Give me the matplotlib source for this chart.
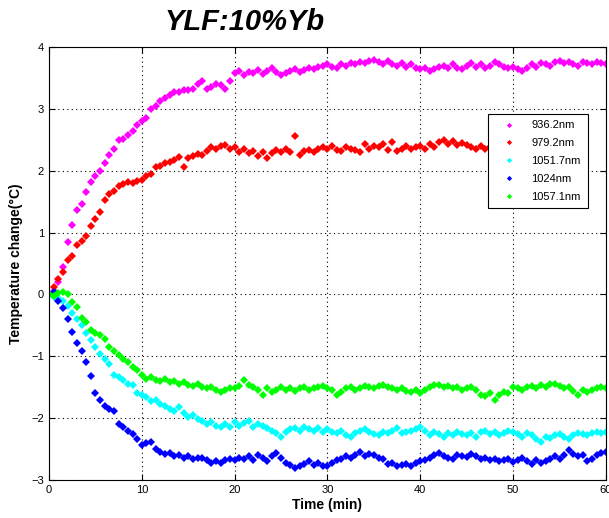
import numpy as np
import matplotlib
matplotlib.use("Agg")
import matplotlib.pyplot as plt

# time axis, one sample every 0.5 min
time = np.arange(0, 60.01, 0.5)

labels = ["936.2nm", "979.2nm", "1051.7nm", "1024nm", "1057.1nm"]
colors = ["#ff00ff", "#ff0000", "#00ffff", "#0000ff", "#00ff00"]

# 936.2nm
magenta = [
    0.00, 0.06, 0.20, 0.45, 0.85, 1.12, 1.36, 1.47, 1.66, 1.82,
    1.92, 2.00, 2.12, 2.26, 2.35, 2.50, 2.52, 2.58, 2.64, 2.74,
    2.80, 2.85, 3.00, 3.05, 3.13, 3.18, 3.22, 3.27, 3.28, 3.30,
    3.30, 3.33, 3.40, 3.46, 3.32, 3.36, 3.40, 3.38, 3.32, 3.45,
    3.58, 3.62, 3.55, 3.60, 3.58, 3.63, 3.57, 3.62, 3.66, 3.60,
    3.55, 3.58, 3.62, 3.65, 3.60, 3.63, 3.66, 3.64, 3.68, 3.70,
    3.72, 3.68, 3.66, 3.72, 3.70, 3.74, 3.72, 3.76, 3.75, 3.78,
    3.80, 3.76, 3.73, 3.78, 3.72, 3.70, 3.75, 3.68, 3.72, 3.66,
    3.65, 3.67, 3.62, 3.64, 3.68, 3.70, 3.66, 3.72, 3.67, 3.64,
    3.70, 3.74, 3.68, 3.72, 3.66, 3.70, 3.76, 3.72, 3.68, 3.66,
    3.68, 3.64, 3.62, 3.66, 3.72, 3.68, 3.75, 3.72, 3.70, 3.76,
    3.78, 3.74, 3.76, 3.72, 3.70, 3.76, 3.74, 3.72, 3.76, 3.74,
    3.72,
]

# 979.2nm (stops under the legend)
red = [
    0.00, 0.12, 0.25, 0.36, 0.55, 0.62, 0.80, 0.86, 0.95, 1.10,
    1.22, 1.33, 1.52, 1.62, 1.68, 1.75, 1.79, 1.82, 1.80, 1.84,
    1.85, 1.92, 1.95, 2.06, 2.08, 2.12, 2.15, 2.18, 2.22, 2.06,
    2.20, 2.24, 2.27, 2.25, 2.32, 2.38, 2.35, 2.40, 2.41, 2.36,
    2.38, 2.30, 2.35, 2.28, 2.32, 2.24, 2.30, 2.20, 2.28, 2.34,
    2.30, 2.36, 2.30, 2.57, 2.25, 2.32, 2.34, 2.30, 2.36, 2.38,
    2.35, 2.40, 2.34, 2.32, 2.38, 2.36, 2.34, 2.30, 2.44, 2.36,
    2.40, 2.38, 2.44, 2.34, 2.46, 2.32, 2.36, 2.40, 2.35, 2.38,
    2.40, 2.35, 2.44, 2.38, 2.46, 2.50, 2.44, 2.48, 2.42, 2.45,
    2.42, 2.38, 2.36, 2.40, 2.35, 2.38,
]

# 1051.7nm
cyan = [
    0.00, -0.04, -0.06, -0.10, -0.18, -0.30, -0.40, -0.50, -0.62, -0.74,
    -0.85, -0.96, -1.05, -1.12, -1.30, -1.33, -1.38, -1.44, -1.47, -1.60,
    -1.63, -1.66, -1.72, -1.70, -1.77, -1.80, -1.85, -1.88, -1.82, -1.92,
    -1.98, -1.95, -2.02, -2.05, -2.09, -2.06, -2.12, -2.15, -2.10, -2.14,
    -2.06, -2.12, -2.08, -2.05, -2.14, -2.10, -2.12, -2.16, -2.20, -2.24,
    -2.30, -2.22, -2.18, -2.16, -2.20, -2.14, -2.18, -2.20, -2.16, -2.22,
    -2.18, -2.22, -2.24, -2.20, -2.27, -2.30, -2.24, -2.20, -2.18, -2.22,
    -2.26, -2.28, -2.22, -2.24, -2.20, -2.16, -2.24, -2.22, -2.20, -2.18,
    -2.14, -2.20, -2.28, -2.22, -2.26, -2.30, -2.24, -2.28, -2.22, -2.26,
    -2.28, -2.24, -2.30, -2.22, -2.20, -2.26, -2.22, -2.28, -2.24, -2.20,
    -2.23, -2.26, -2.30, -2.24, -2.28, -2.34, -2.38, -2.30, -2.32, -2.28,
    -2.26, -2.30, -2.34, -2.28, -2.24, -2.26, -2.28, -2.24, -2.22, -2.24,
    -2.23,
]

# 1024nm
blue = [
    0.00, 0.04, -0.10, -0.22, -0.40, -0.60, -0.78, -0.92, -1.10, -1.32,
    -1.60, -1.70, -1.80, -1.86, -1.88, -2.10, -2.14, -2.20, -2.26, -2.34,
    -2.44, -2.40, -2.38, -2.50, -2.55, -2.58, -2.56, -2.62, -2.60, -2.64,
    -2.62, -2.66, -2.64, -2.65, -2.68, -2.72, -2.70, -2.73, -2.68, -2.66,
    -2.68, -2.64, -2.66, -2.62, -2.67, -2.60, -2.65, -2.70, -2.62, -2.57,
    -2.64, -2.72, -2.76, -2.80, -2.78, -2.74, -2.70, -2.76, -2.72, -2.78,
    -2.77, -2.72, -2.68, -2.66, -2.62, -2.64, -2.60, -2.55, -2.62, -2.58,
    -2.60, -2.64, -2.66, -2.74, -2.72, -2.78, -2.76, -2.74, -2.78, -2.72,
    -2.70, -2.68, -2.64, -2.60, -2.57, -2.62, -2.64, -2.66, -2.60, -2.62,
    -2.63, -2.58, -2.62, -2.66, -2.64, -2.68, -2.66, -2.70, -2.68, -2.66,
    -2.71, -2.68, -2.64, -2.70, -2.74, -2.68, -2.72, -2.70, -2.66, -2.62,
    -2.66, -2.60, -2.52, -2.58, -2.62, -2.60, -2.70, -2.66, -2.60, -2.56,
    -2.55,
]

# 1057.1nm
green = [
    0.00, -0.02, 0.02, 0.04, 0.00, -0.12, -0.20, -0.38, -0.45, -0.58,
    -0.62, -0.66, -0.72, -0.85, -0.92, -0.98, -1.05, -1.10, -1.18, -1.22,
    -1.30, -1.36, -1.33, -1.38, -1.40, -1.36, -1.42, -1.40, -1.45, -1.42,
    -1.46, -1.48, -1.45, -1.50, -1.52, -1.50, -1.54, -1.58, -1.55, -1.52,
    -1.52, -1.48, -1.39, -1.46, -1.50, -1.55, -1.62, -1.52, -1.58, -1.54,
    -1.50, -1.54, -1.52, -1.56, -1.52, -1.50, -1.54, -1.52, -1.50, -1.48,
    -1.52, -1.55, -1.62, -1.58, -1.52, -1.50, -1.54, -1.52, -1.48, -1.50,
    -1.52, -1.48, -1.46, -1.50, -1.52, -1.54, -1.52, -1.56, -1.58, -1.54,
    -1.60, -1.54, -1.50, -1.46, -1.47, -1.50, -1.48, -1.52, -1.50, -1.54,
    -1.52, -1.50, -1.54, -1.62, -1.64, -1.60, -1.71, -1.62, -1.58, -1.60,
    -1.50, -1.52, -1.54, -1.50, -1.48, -1.52, -1.46, -1.50, -1.44, -1.45,
    -1.48, -1.52, -1.50, -1.56, -1.62, -1.55, -1.58, -1.54, -1.52, -1.50,
    -1.52,
]

series = [magenta, red, cyan, blue, green]

plt.rcParams['font.family'] = ['Liberation Sans', 'DejaVu Sans']

fig = plt.figure(figsize=(6.09, 5.18), dpi=100)
ax = fig.add_axes([0.0805, 0.0734, 0.9145, 0.8356])

for vals, col, lab in zip(series, colors, labels):
    ax.plot(time[:len(vals)], vals, linestyle='none', marker='D',
            markersize=3.8, markeredgewidth=0, color=col, label=lab)

ax.set_xlim(0, 60)
ax.set_ylim(-3, 4)
ax.set_xticks(np.arange(0, 61, 10))
ax.set_yticks(np.arange(-3, 5, 1))
ax.grid(True, color='black', linestyle=(0, (1, 3)), linewidth=0.8)
ax.tick_params(direction='in', top=True, right=True, labelsize=8, length=4)
for sp in ax.spines.values():
    sp.set_linewidth(0.8)

ax.set_xlabel("Time (min)", fontsize=10, fontweight='bold', labelpad=2)
ax.set_ylabel("Temperature change(\u00b0C)", fontsize=10, fontweight='bold', labelpad=6)

fig.text(0.402, 0.958, "YLF:10%Yb", fontsize=21, fontweight='bold',
         fontstyle='italic', ha='center', va='center')

leg = ax.legend(loc='upper right', bbox_to_anchor=(0.977, 0.859), fontsize=8,
                fancybox=False, framealpha=1, edgecolor='black',
                markerscale=0.7, handlelength=2.5, borderpad=0.6, labelspacing=0.7)
leg.get_frame().set_linewidth(0.8)

fig.savefig("out.png", dpi=100)
